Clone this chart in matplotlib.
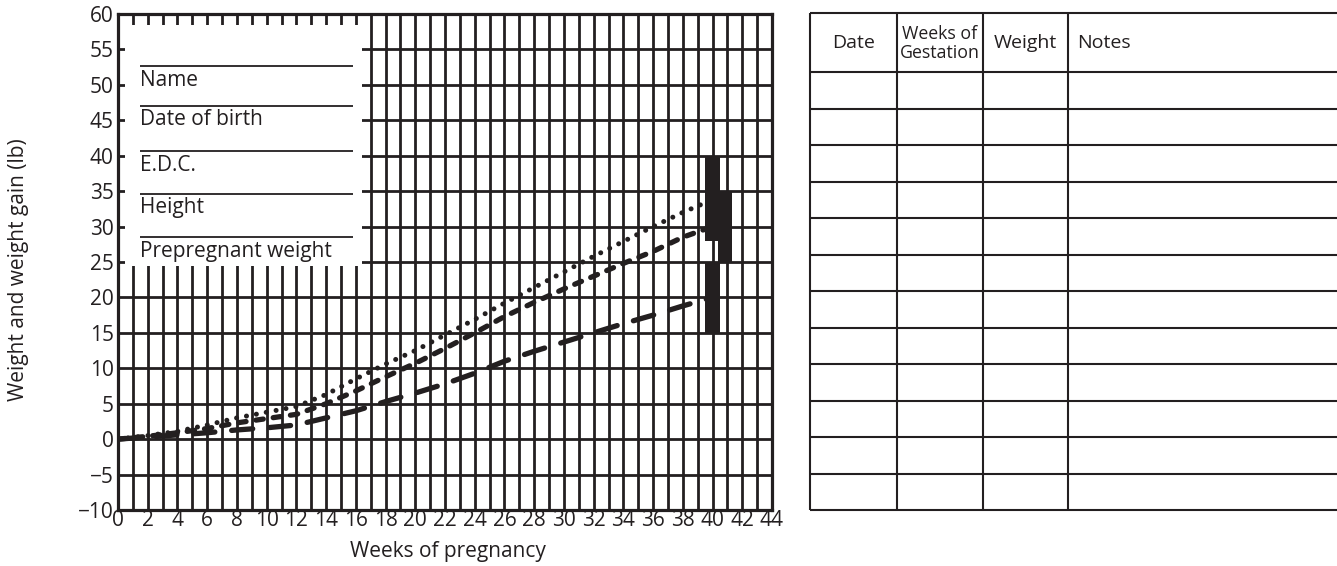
import matplotlib
matplotlib.use("Agg")
import matplotlib.pyplot as plt
from matplotlib.patches import Rectangle

plt.rcParams['font.family'] = ['Open Sans', 'DejaVu Sans']

# ---------------- data ----------------
weeks = [0, 2, 4, 6, 8, 10, 12, 14, 16, 18, 20, 22, 24, 26, 28, 30, 32, 34, 36, 38, 40]
gain_dotted = [0, 0.5, 1.1, 2.0, 3.0, 3.8, 4.6, 6.3, 8.5, 10.6, 12.5, 14.7, 16.9, 19.2, 21.4,
               23.6, 25.8, 27.9, 30.0, 32.0, 33.8]
gain_short_dash = [0, 0.4, 0.9, 1.5, 2.3, 2.9, 3.5, 5.0, 6.8, 8.8, 10.7, 12.8, 15.0, 17.3, 19.3,
                   21.2, 23.0, 24.8, 26.5, 28.5, 30.0]
gain_long_dash = [0, 0.3, 0.6, 0.9, 1.3, 1.6, 2.0, 3.0, 4.0, 5.3, 6.5, 7.8, 9.3, 11.0, 12.4,
                  13.7, 15.0, 16.3, 17.5, 18.8, 20.0]

range_week = [40, 40.85, 40]
range_low = [28, 25, 15]
range_high = [40, 35, 25]

x_ticks = list(range(0, 45, 2))
y_ticks = list(range(-10, 61, 5))
y_tick_labels = [str(v).replace('-', '\u2212') for v in y_ticks]

form_fields = ['Name', 'Date of birth', 'E.D.C.', 'Height', 'Prepregnant weight']
form_line_y = [52.7, 47.0, 40.6, 34.6, 28.5]
form_text_y = [49.8, 44.3, 37.9, 31.9, 25.7]

table_headers = ['Date', 'Weeks of\nGestation', 'Weight', 'Notes']
n_table_rows = 12

ink = '#231f20'
W, H = 1337, 566
FS = 15

fig = plt.figure(figsize=(W / 100, H / 100), dpi=100)
fig.patch.set_facecolor('white')

# ---------------- chart ----------------
L, R, T, B = 118, 772, 14, 510
ax = fig.add_axes([L / W, (H - B) / H, (R - L) / W, (B - T) / H])
ax.set_xlim(0, 44)
ax.set_ylim(-10, 60)

ax.vlines(range(1, 44), -10, 60, color=ink, lw=2.0, zorder=1)
ax.hlines(range(-5, 60, 5), 0, 44, color=ink, lw=2.0, zorder=1)

ax.add_patch(Rectangle((0.5, 24.4), 15.9, 34.0, facecolor='white', edgecolor='none', zorder=2))

ax.hlines(form_line_y, 1.5, 15.8, color=ink, lw=1.3, zorder=3)
for lab, ty in zip(form_fields, form_text_y):
    ax.text(1.5, ty, lab, fontsize=FS, color=ink, va='baseline', ha='left', zorder=3)

ax.plot(weeks, gain_long_dash, color=ink, lw=3.8, dashes=(4.0, 3.2),
        dash_capstyle='round', zorder=4)
ax.plot(weeks, gain_short_dash, color=ink, lw=3.8, dashes=(1.4, 1.9),
        dash_capstyle='round', zorder=4)
ax.plot(weeks, gain_dotted, color=ink, lw=3.6, dashes=(0.01, 2.0),
        dash_capstyle='round', zorder=4)

heights = [h - l for h, l in zip(range_high, range_low)]
widths = [1.0, 0.9, 1.0]
ax.bar(range_week, heights, bottom=range_low, width=widths, color=ink, zorder=5)

ax.set_xticks(x_ticks)
ax.set_yticks(y_ticks)
ax.set_yticklabels(y_tick_labels)
ax.tick_params(axis='x', length=0, pad=0, labelsize=FS, colors=ink)
ax.tick_params(axis='y', length=0, pad=3, labelsize=FS, colors=ink)
for s in ax.spines.values():
    s.set_linewidth(2.3)
    s.set_color(ink)
    s.set_zorder(6)

fig.text(19 / W, 1 - 270 / H, 'Weight and weight gain (lb)', rotation=90,
         ha='center', va='center', fontsize=FS, color=ink)
fig.text(448 / W, 1 - 551 / H, 'Weeks of pregnancy', ha='center', va='center',
         fontsize=FS, color=ink)

# ---------------- table ----------------
TL, TR, TT, TB = 810, 1337, 13, 510
tax = fig.add_axes([TL / W, (H - TB) / H, (TR - TL) / W, (TB - TT) / H])
tax.set_xlim(TL, TR)
tax.set_ylim(TB, TT)
tax.axis('off')

col_x = [810, 897, 983, 1068]
header_bottom = 72
row_h = (TB - header_bottom) / n_table_rows
row_lines = [TT, header_bottom] + [header_bottom + row_h * (i + 1) for i in range(n_table_rows)]
tax.hlines(row_lines, TL, TR + 5, color=ink, lw=1.5, clip_on=False)
tax.vlines(col_x, TT, TB, color=ink, lw=1.5, clip_on=False)

hy = (TT + header_bottom) / 2 + 1
tax.text((col_x[0] + col_x[1]) / 2, hy, table_headers[0], ha='center', va='center', fontsize=FS - 1, color=ink)
tax.text((col_x[1] + col_x[2]) / 2, hy, table_headers[1], ha='center', va='center', fontsize=12.8,
         color=ink, linespacing=1.05)
tax.text((col_x[2] + col_x[3]) / 2, hy, table_headers[2], ha='center', va='center', fontsize=FS - 1, color=ink)
tax.text(col_x[3] + 9, hy, table_headers[3], ha='left', va='center', fontsize=FS - 1, color=ink)

fig.savefig('out.png', dpi=100, facecolor='white')
